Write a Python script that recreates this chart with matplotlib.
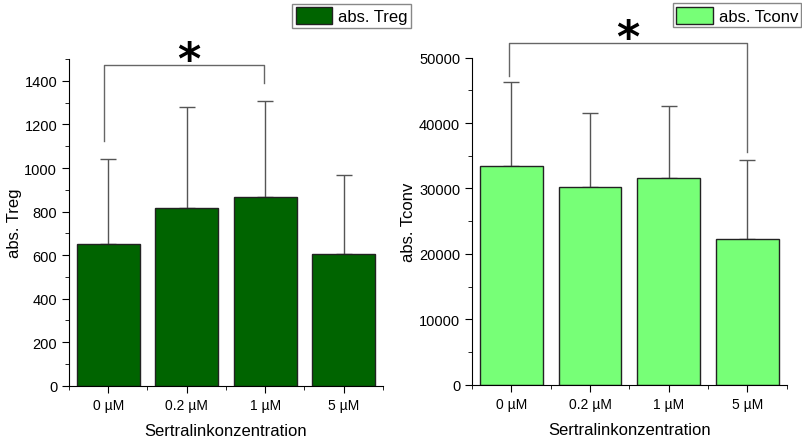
import numpy as np
import matplotlib
matplotlib.use("Agg")
import matplotlib.pyplot as plt
from matplotlib.ticker import MultipleLocator, FixedLocator

plt.rcParams["font.family"] = ["Liberation Sans", "DejaVu Sans"]

conc = ["0 µM", "0.2 µM", "1 µM", "5 µM"]
treg = [652, 815, 867, 607]
treg_err = [389, 464, 440, 362]
tconv = [33500, 30200, 31650, 22250]
tconv_err = [12750, 11300, 10900, 12150]

fig = plt.figure(figsize=(8.03, 4.39), dpi=100)
ax1 = fig.add_axes([0.0859, 0.119, 0.391, 0.744])
ax2 = fig.add_axes([0.5878, 0.1214, 0.3919, 0.745])

x = np.arange(1, 5)


def panel(ax, vals, errs, color, ylab, ylim, major, minor, label):
    ax.bar(x, vals, 0.8, color=color, edgecolor="#222222", lw=1.0, label=label, zorder=2)
    ax.errorbar(x, vals, yerr=[np.zeros(4), errs], fmt="none", ecolor="#555555",
                elinewidth=1.0, capsize=6, capthick=1.0, zorder=1)
    ax.set_xlim(0.5, 4.5)
    ax.set_ylim(*ylim)
    ax.spines["top"].set_visible(False)
    ax.spines["right"].set_visible(False)
    ax.set_xticks(x)
    ax.set_xticklabels(conc)
    ax.xaxis.set_minor_locator(FixedLocator([0.5, 1.5, 2.5, 3.5, 4.5]))
    ax.yaxis.set_major_locator(MultipleLocator(major))
    ax.yaxis.set_minor_locator(MultipleLocator(minor))
    ax.tick_params(axis="both", which="major", direction="out", length=5, labelsize=10.5)
    ax.tick_params(axis="x", labelsize=10)
    ax.tick_params(axis="both", which="minor", direction="out", length=3)
    ax.set_xlabel("Sertralinkonzentration", fontsize=12, labelpad=8)
    ax.set_ylabel(ylab, fontsize=12, labelpad=2)


panel(ax1, treg, treg_err, "#006400", "abs. Treg", (0, 1500), 200, 100, "abs. Treg")
panel(ax2, tconv, tconv_err, "#77ff77", "abs. Tconv", (0, 50000), 10000, 5000, "abs. Tconv")

# significance brackets
br = "#666666"
ax1.plot([0.94, 0.94, 2.98, 2.98], [1125, 1473, 1473, 1390], color=br, lw=1.0, clip_on=False)
ax1.text(2.02, 1492, "*", fontsize=32, fontweight="bold", family="DejaVu Sans",
         ha="center", va="center")
ax2.plot([0.97, 0.97, 4.0, 4.0], [47250, 52200, 52200, 35500], color=br, lw=1.0, clip_on=False)
ax2.text(2.48, 52950, "*", fontsize=32, fontweight="bold", family="DejaVu Sans",
         ha="center", va="center")

for ax, anchor in [(ax1, (0.512, 0.989)), (ax2, (0.998, 0.990))]:
    leg = ax.legend(loc="upper right", bbox_to_anchor=anchor, bbox_transform=fig.transFigure,
                    fontsize=12, fancybox=False, framealpha=1, edgecolor="#888888",
                    handlelength=2.2, handleheight=1.2, borderpad=0.2, borderaxespad=0,
                    handletextpad=0.35)
    leg.get_frame().set_linewidth(1.0)

fig.savefig("out.png", dpi=100)
